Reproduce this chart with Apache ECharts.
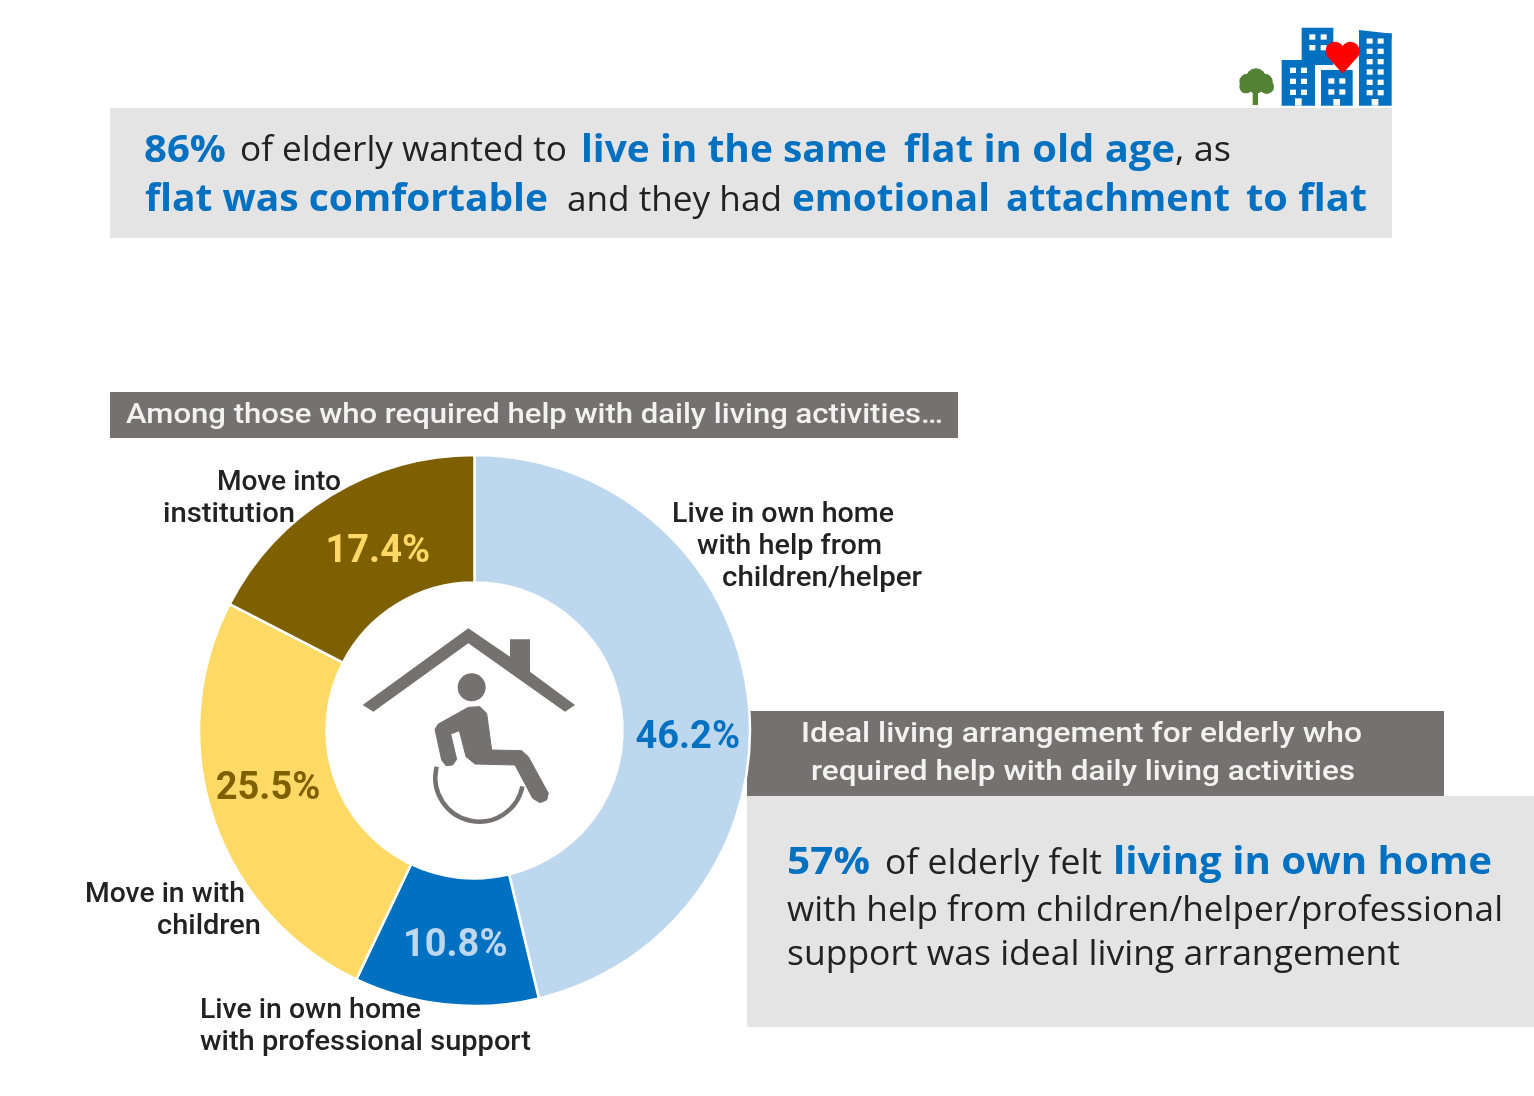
<!DOCTYPE html>
<html><head><meta charset="utf-8">
<style>html,body{margin:0;padding:0;background:#fff}#c{width:1534px;height:1096px}</style>
<script src="https://cdn.jsdelivr.net/npm/echarts@6/dist/echarts.min.js"></script></head>
<body><div id="c"></div>
<script>
const categories = ['Live in own home with help from children/helper','Live in own home with professional support','Move in with children','Move into institution'];
const values = [46.2,10.8,25.5,17.4];
const sliceColors = ['#BDD7EE','#0070C0','#FFD966','#7F6000'];
const valueColors = ['#0070C0','#BDD7EE','#7F6000','#FFD966'];
const blue='#0070C0', grey='#E4E4E4', dark='#767171', ink='#222222';
const sans='"Open Sans","Noto Sans",sans-serif', din='Roboto,"Noto Sans",sans-serif';

const chart = echarts.init(document.getElementById('c'),null,{renderer:'canvas'});
const g=[];
const rect=(x,y,w,h,fill,z=1)=>g.push({type:'rect',shape:{x,y,width:w,height:h},style:{fill},z});
const mctx=document.createElement('canvas').getContext('2d');
const text=(t,x,y,w,size,weight,fill,font=din)=>{
  mctx.font=weight+' '+size+'px '+font;
  const sx=w/mctx.measureText(t).width;
  g.push({type:'text',x,y,scaleX:sx,z:5,style:{text:t,fontSize:size,fontWeight:weight,fill,fontFamily:font,align:'left',verticalAlign:'middle'}});
};

rect(110,108,1282,130,grey);
rect(110,392,848,46,dark);
rect(747,711,697,85,dark);
rect(747,796,787,231,grey);

// headline
text('86%',144,151,82,37,700,blue,sans);
text('of elderly wanted to',240,151,327,35,400,ink,sans);
text('live in the same',581,151,306,37,700,blue,sans);
text('flat in old age',904,151,271,37,700,blue,sans);
text(', as',1175,151,56,35,400,ink,sans);
text('flat was comfortable',145,200,403,37,700,blue,sans);
text('and they had',567,201,215,35,400,ink,sans);
text('emotional',792,200,198,37,700,blue,sans);
text('attachment',1006,200,224,37,700,blue,sans);
text('to flat',1246,200,121,37,700,blue,sans);

text('Among those who required help with daily living activities…',126,416,817,28,500,'#F2F2F2');
text('Ideal living arrangement for elderly who',801,735,561,28,500,'#F2F2F2');
text('required help with daily living activities',811,773,544,28,500,'#F2F2F2');

text('57%',787,863,83,38,700,blue,sans);
text('of elderly felt',885,864,217,35,400,ink,sans);
text('living in own home',1113,863,379,38,700,blue,sans);
text('with help from children/helper/professional',787,911,716,35,400,ink,sans);
text('support was ideal living arrangement',787,955,613,35,400,ink,sans);

// category labels
text('Move into',217,483,124,27,500,ink);
text('institution',163,515,132,27,500,ink);
text('Live in own home',672,515,222,27,500,ink);
text('with help from',697,547,185,27,500,ink);
text('children/helper',722,579,200,27,500,ink);
text('Move in with',85,895,160,27,500,ink);
text('children',157,927,104,27,500,ink);
text('Live in own home',200,1011,221,27,500,ink);
text('with professional support',200,1043,331,27,500,ink);

// centre icon (coordinates from the picture)
const ic=(a,b)=>[340+a/3,610+b/3];
const icon='#767171';
g.push({type:'polygon',z:4,shape:{points:[[385,55],[510,140],[510,88],[570,88],[570,185],[705,285],[675,305],[385,100],[100,305],[68,285]].map(p=>ic(p[0],p[1]))},style:{fill:icon}});
g.push({type:'circle',z:4,shape:{cx:ic(395,0)[0],cy:ic(0,232)[1],r:14},style:{fill:icon}});
g.push({type:'polygon',z:4,shape:{points:[[385,292],[420,290],[440,310],[455,420],[545,422],[565,440],[625,550],[620,570],[600,578],[578,565],[525,465],[405,462],[378,440],[358,362],[332,372],[350,448],[338,465],[318,467],[305,450],[285,358],[295,342]].map(p=>ic(p[0],p[1]))},style:{fill:icon,stroke:icon,lineWidth:1,lineJoin:'round'}});
g.push({type:'arc',z:4,shape:{cx:ic(418,0)[0],cy:ic(0,503)[1],r:44,startAngle:0.2,endAngle:1.08*Math.PI,clockwise:true},style:{fill:'none',stroke:icon,lineWidth:4.5}});

// building icon
const b=(a,c)=>[1220+a/3,15+c/3];
const rectZ=(x0,y0,x1,y1,fill,z=4)=>{const p=b(x0,y0),q=b(x1,y1);g.push({type:'rect',z,shape:{x:p[0],y:p[1],width:q[0]-p[0],height:q[1]-p[1]},style:{fill}});};
const tower=(x0,y0,x1,y1,cols,rows,wx,wy,dx,dy)=>{
  rectZ(x0,y0,x1,y1,blue);
  for(let i=0;i<cols;i++)for(let j=0;j<rows;j++)rectZ(wx+i*dx,wy+j*dy,wx+i*dx+18,wy+j*dy+16,'#fff');
};
tower(245,38,340,150,2,2,268,58,34,32);
tower(185,135,285,272,2,3,210,158,33,33);
rectZ(225,250,245,272,'#fff');
tower(303,165,398,272,2,2,325,190,33,33);
rectZ(340,252,360,272,'#fff');
tower(417,55,515,272,2,6,440,70,33,31);
rectZ(455,252,475,272,'#fff');
g.push({type:'polygon',z:4,shape:{points:[[417,45],[515,56],[515,70],[417,70]].map(p=>b(p[0],p[1]))},style:{fill:blue}});
// heart
[[345,108,28],[391,108,28]].forEach(c=>{const p=b(c[0],c[1]);g.push({type:'circle',z:6,shape:{cx:p[0],cy:p[1],r:c[2]/3},style:{fill:'#FF0000'}});});
g.push({type:'polygon',z:6,shape:{points:[[320,122],[368,176],[416,122],[391,100],[345,100]].map(p=>b(p[0],p[1]))},style:{fill:'#FF0000'}});
// tree
[[108,190,30],[82,200,24],[134,200,24],[78,215,20],[140,215,22],[108,212,24]].forEach(c=>{const p=b(c[0],c[1]);g.push({type:'circle',z:4,shape:{cx:p[0],cy:p[1],r:c[2]/3},style:{fill:'#548235'}});});
rectZ(98,225,114,270,'#548235');

const labelOffsets=[[0,33],[3,2],[-3,-10],[15,5]];
chart.setOption({
  animation:false,
  backgroundColor:'#fff',
  graphic:{elements:g},
  series:[{
    type:'pie',center:[474.5,730.5],radius:[148,275.5],startAngle:90,silent:true,z:2,
    itemStyle:{borderColor:'#fff',borderWidth:2.5},
    labelLine:{show:false},
    data:categories.map((name,i)=>({name,value:values[i],
      itemStyle:{color:sliceColors[i]},
      label:{show:true,position:'inside',formatter:values[i].toFixed(1)+'%',color:valueColors[i],fontFamily:din,fontWeight:700,fontSize:38,offset:labelOffsets[i]}}))
  }]
});
</script></body></html>
